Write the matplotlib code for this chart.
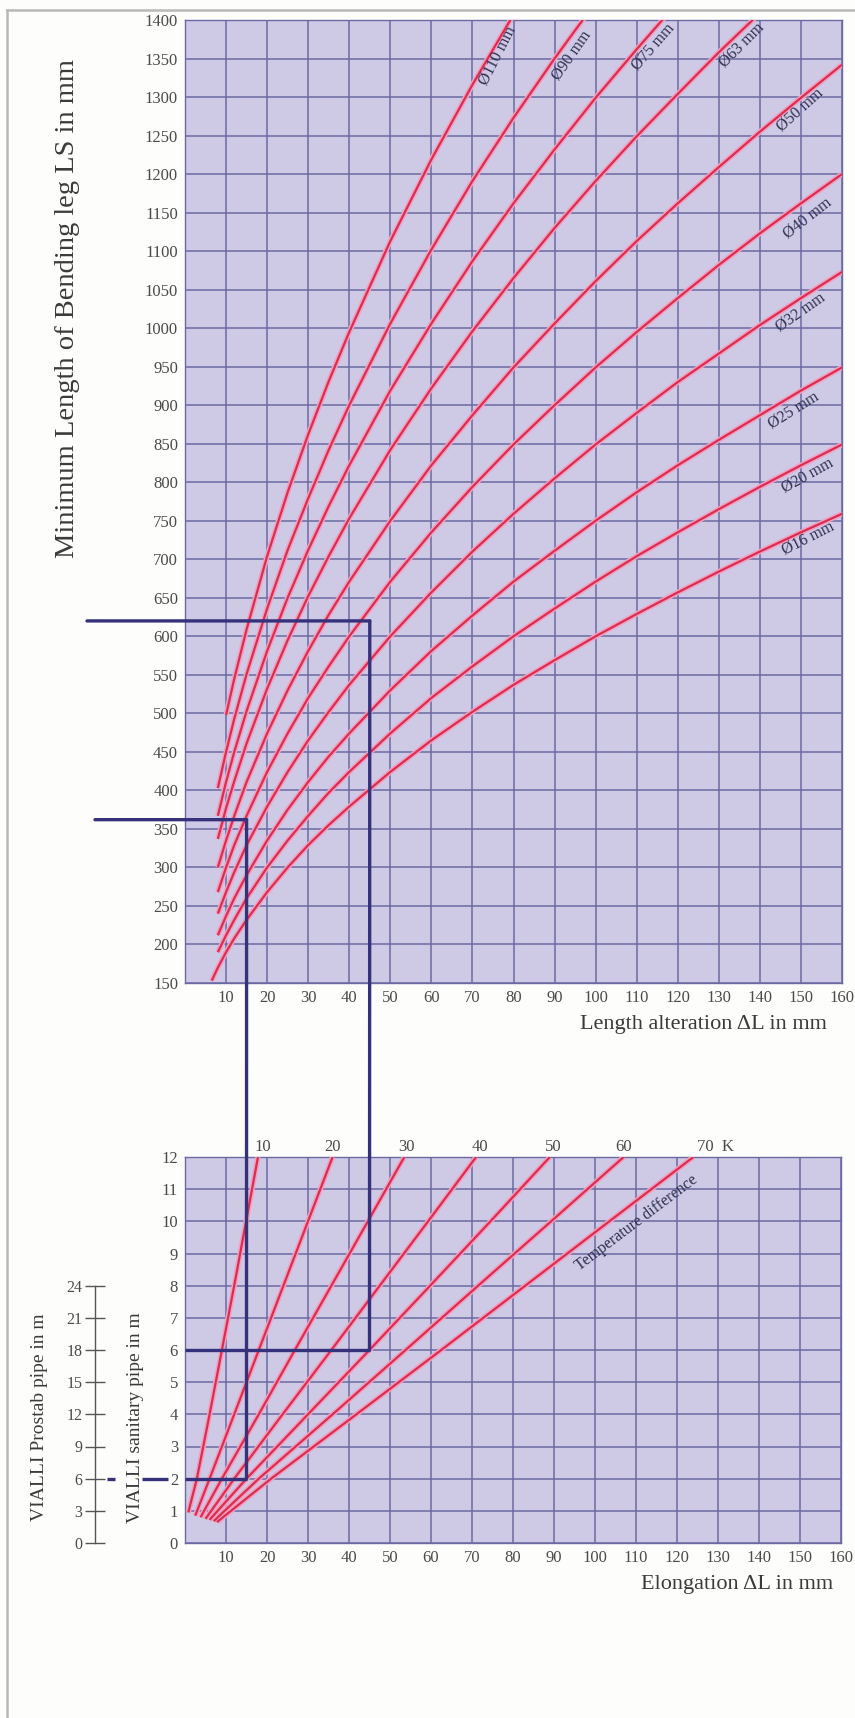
import matplotlib
matplotlib.use('Agg')
import matplotlib.pyplot as plt
from matplotlib.patches import ConnectionPatch
from matplotlib.lines import Line2D

plt.rcParams['font.family'] = ['Liberation Serif', 'DejaVu Serif']

# ---------------- data: upper chart (bending leg) ----------------
diameters = [16, 20, 25, 32, 40, 50, 63, 75, 90, 110]
dl_common = [8, 10, 12, 15, 20, 25, 30, 35, 40, 50, 60, 70, 80, 90, 100,
             110, 120, 130, 140, 150, 160]
dl_d16 = [6.5] + dl_common
dl_d110 = [10, 12, 15, 20, 25, 30, 35, 40, 50, 60, 70, 80]

ls_d16 = [153, 170, 190, 208, 232, 268, 300, 329, 355, 379, 424, 465, 502, 537,
          569, 600, 629, 657, 684, 710, 735, 759]
ls_d20 = [190, 212, 232, 260, 300, 335, 367, 397, 424, 474, 520, 561, 600, 636,
          671, 704, 735, 765, 794, 822, 849]
ls_d25 = [212, 237, 260, 290, 335, 375, 411, 444, 474, 530, 581, 627, 671, 711,
          750, 787, 822, 855, 887, 919, 949]
ls_d32 = [240, 268, 294, 329, 379, 424, 465, 502, 537, 600, 657, 710, 759, 805,
          849, 890, 930, 967, 1004, 1039, 1073]
ls_d40 = [268, 300, 329, 367, 424, 474, 520, 561, 600, 671, 735, 794, 849, 900,
          949, 995, 1039, 1082, 1123, 1162, 1200]
ls_d50 = [300, 335, 367, 411, 474, 530, 581, 628, 671, 750, 822, 887, 949, 1006,
          1061, 1113, 1162, 1209, 1255, 1299, 1342]
ls_d63 = [337, 377, 412, 461, 532, 595, 652, 704, 753, 842, 922, 996, 1065, 1130,
          1191, 1249, 1304, 1358, 1409]
ls_d75 = [367, 411, 450, 503, 581, 650, 712, 769, 822, 919, 1006, 1087, 1162,
          1232, 1299, 1362, 1423]
ls_d90 = [403, 450, 493, 551, 636, 712, 779, 842, 900, 1006, 1102, 1191, 1273,
          1350, 1423]
ls_d110 = [498, 545, 609, 704, 787, 862, 931, 995, 1113, 1219, 1316, 1407]

diam_labels = ['Ø16 mm', 'Ø20 mm', 'Ø25 mm', 'Ø32 mm', 'Ø40 mm', 'Ø50 mm',
               'Ø63 mm', 'Ø75 mm', 'Ø90 mm', 'Ø110 mm']
label_x = [151.7, 151.5, 148.1, 149.8, 151.5, 149.8, 135.6, 114.0, 94.2, 76.0]
label_y = [727, 809, 894, 1021, 1143, 1283, 1367, 1365, 1354, 1354]
label_rot = [27, 29, 32, 35, 38, 42, 45, 49, 55, 63]

upper_xticks = list(range(0, 161, 10))
upper_yticks = list(range(150, 1401, 50))

# ---------------- data: lower chart (elongation) ----------------
temps = [10, 20, 30, 40, 50, 60, 70]
len_start = [0.95, 0.85, 0.80, 0.75, 0.72, 0.68, 0.65]
el_start = [0.8, 2.5, 3.8, 5.0, 6.0, 7.0, 7.8]
len_pts = [2, 4, 6, 8, 10, 12]
el_t10 = [2.9, 6.0, 9.0, 12.0, 14.9, 17.8]
el_t20 = [6.0, 12.0, 18.0, 24.0, 30.0, 36.0]
el_t30 = [9.0, 18.0, 26.8, 35.7, 44.6, 53.5]
el_t40 = [12.0, 23.8, 35.7, 47.5, 59.3, 71.0]
el_t50 = [15.0, 30.0, 45.0, 59.8, 74.5, 89.0]
el_t60 = [18.0, 36.0, 53.8, 71.5, 89.3, 107.0]
el_t70 = [21.0, 41.8, 62.5, 83.0, 103.5, 124.0]
temp_label_x = [19, 36, 54, 72, 89.7, 107, 129.5]
temp_label_txt = ['10', '20', '30', '40', '50', '60', '70  K']

lower_xticks = list(range(0, 161, 10))
lower_yticks = list(range(0, 13))
prostab_ticks = list(range(0, 25, 3))

# example construction (Ø40 pipe, ΔT = 50 K)
ex_len = [2, 6]
ex_dl = [15, 45]
ex_ls = [362, 620]

# ---------------- styling ----------------
W, H = 855, 1718
fig = plt.figure(figsize=(W / 100, H / 100), dpi=100)
fig.patch.set_facecolor('#fdfdfb')


def fx(px):
    return px / W


def fy(py):
    return 1 - py / H


BG = '#cec9e5'
GRID = '#6c69a2'
RED = '#dc2c50'
PINK = '#f0a0c0'
NAVY = '#35317a'
TXT = '#4a4a4a'
LBL = '#2f2f4f'

# outer frame
fig.add_artist(Line2D([fx(7), fx(7)], [fy(10), 0], transform=fig.transFigure,
                      color='#b8b8b8', lw=1.8))
fig.add_artist(Line2D([fx(7), 1], [fy(10), fy(10)], transform=fig.transFigure,
                      color='#b8b8b8', lw=1.8))

ax1 = fig.add_axes([fx(185), fy(983), fx(842) - fx(185), fy(20) - fy(983)])
ax2 = fig.add_axes([fx(185), fy(1543), fx(841) - fx(185), fy(1157) - fy(1543)])

for ax in (ax1, ax2):
    ax.set_facecolor(BG)
    ax.set_axisbelow(True)
    ax.grid(True, color=GRID, lw=1.1)
    for s in ax.spines.values():
        s.set_color(GRID)
        s.set_linewidth(1.0)
    ax.tick_params(length=0, pad=5, labelsize=12, labelcolor=TXT)

ax1.set_xlim(0, 160)
ax1.set_ylim(150, 1400)
ax1.set_xticks(upper_xticks)
ax1.set_xticklabels([''] + [str(v) for v in upper_xticks[1:]])
ax1.set_yticks(upper_yticks)

ax2.set_xlim(0, 160)
ax2.set_ylim(0, 12)
ax2.set_xticks(lower_xticks)
ax2.set_xticklabels([''] + [str(v) for v in lower_xticks[1:]])
ax2.set_yticks(lower_yticks)

# upper curves
curves = [(dl_d16, ls_d16), (dl_common, ls_d20), (dl_common, ls_d25),
          (dl_common, ls_d32), (dl_common, ls_d40), (dl_common, ls_d50),
          (dl_common[:len(ls_d63)], ls_d63), (dl_common[:len(ls_d75)], ls_d75),
          (dl_common[:len(ls_d90)], ls_d90), (dl_d110, ls_d110)]
for (xs, ys) in curves:
    ax1.plot(xs, ys, color=PINK, lw=3.8, solid_capstyle='butt', zorder=3)
    ax1.plot(xs, ys, color=RED, lw=1.6, solid_capstyle='butt', zorder=4)

for t, x, y, r in zip(diam_labels, label_x, label_y, label_rot):
    ax1.text(x, y, t, rotation=r, rotation_mode='anchor', ha='center',
             va='center', fontsize=11.5, color=LBL, zorder=5)

# lower lines
el_series = [el_t10, el_t20, el_t30, el_t40, el_t50, el_t60, el_t70]
for es, ls0, el0 in zip(el_series, len_start, el_start):
    xs = [el0] + es
    ys = [ls0] + len_pts
    ax2.plot(xs, ys, color=PINK, lw=3.8, solid_capstyle='butt', zorder=3)
    ax2.plot(xs, ys, color=RED, lw=1.6, solid_capstyle='butt', zorder=4)

for x, t in zip(temp_label_x, temp_label_txt):
    ax2.text(x, 1.026, t, transform=ax2.get_xaxis_transform(), ha='center',
             va='center', fontsize=12, color=TXT)

ax2.text(110.2, 9.95, 'Temperature difference', rotation=37,
         rotation_mode='anchor', ha='center', va='center', fontsize=11.5,
         color=LBL, zorder=5)

# construction lines
LW = 2.4
for L, d, ls, xstart in zip(ex_len, ex_dl, ex_ls, [-0.137, -0.1492]):
    con = ConnectionPatch(xyA=(d, ls), coordsA=ax1.transData,
                          xyB=(d, L), coordsB=ax2.transData,
                          color=NAVY, lw=LW, zorder=6)
    fig.add_artist(con)
    hcon = ConnectionPatch(xyA=(xstart, ls), coordsA=ax1.get_yaxis_transform(),
                           xyB=(d, ls), coordsB=ax1.transData,
                           color=NAVY, lw=LW, zorder=6)
    fig.add_artist(hcon)
    ax2.plot([0, d], [L, L], color=NAVY, lw=LW, zorder=6, solid_capstyle='butt')

for a, b in [(-0.1189, -0.1067), (-0.0655, -0.0259)]:
    ax2.plot([a, b], [ex_len[0], ex_len[0]], transform=ax2.get_yaxis_transform(),
             color=NAVY, lw=LW, clip_on=False, solid_capstyle='butt')

# secondary scale (Prostab pipe)
ax3 = fig.add_axes([fx(95), fy(1543), 0.0001, fy(1157) - fy(1543)])
ax3.set_facecolor('none')
ax3.set_ylim(0, 36)
for s in ['right', 'top', 'bottom']:
    ax3.spines[s].set_visible(False)
ax3.spines['left'].set_color('#555555')
ax3.spines['left'].set_linewidth(1.0)
ax3.spines['left'].set_bounds(0, 24)
ax3.set_xticks([])
ax3.set_yticks(prostab_ticks)
ax3.tick_params(axis='y', direction='inout', length=14, width=1.0,
                color='#555555', pad=2, labelsize=11.5, labelcolor=TXT)

# axis titles
fig.text(fx(68), fy(309), 'Minimum Length of Bending leg LS in mm', rotation=90,
         ha='center', va='center', fontsize=20.5, color='#3a3a3a')
fig.text(fx(827), fy(1025), 'Length alteration ΔL in mm', ha='right',
         va='center', fontsize=16, color='#3a3a3a')
fig.text(fx(833), fy(1585), 'Elongation ΔL in mm', ha='right',
         va='center', fontsize=16, color='#3a3a3a')
fig.text(fx(40), fy(1417), 'VIALLI Prostab pipe in m', rotation=90,
         ha='center', va='center', fontsize=14, color='#3a3a3a')
fig.text(fx(135), fy(1418), 'VIALLI sanitary pipe in m', rotation=90,
         ha='center', va='center', fontsize=14, color='#3a3a3a')

fig.savefig('out.png', dpi=100, facecolor=fig.get_facecolor())
